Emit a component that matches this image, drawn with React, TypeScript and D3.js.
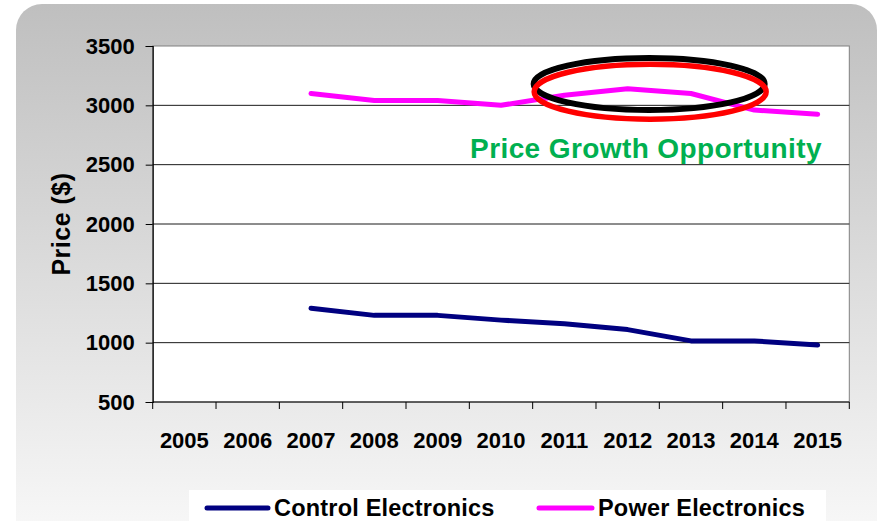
import React, { useEffect, useRef } from 'react';
import * as d3 from 'd3';

// Chart data
const years = ['2005', '2006', '2007', '2008', '2009', '2010', '2011', '2012', '2013', '2014', '2015'];
const controlElectronics = [null, null, 1290, 1230, 1230, 1190, 1160, 1110, 1015, 1015, 980];
const powerElectronics = [null, null, 3100, 3040, 3040, 3000, 3085, 3140, 3100, 2960, 2925];
const yTicks = [500, 1000, 1500, 2000, 2500, 3000, 3500];
const seriesNames = ['Control Electronics', 'Power Electronics'];

const FONT = '"Liberation Sans", Arial, sans-serif';

const App = () => {
  const svgRef = useRef<SVGSVGElement | null>(null);

  useEffect(() => {
    const svg = d3.select(svgRef.current);
    svg.selectAll('*').remove();

    const width = 880;
    const height = 521;
    const plot = { left: 152.7, right: 849.3, top: 46, bottom: 402 };

    // Background panel with vertical gray gradient
    const defs = svg.append('defs');
    const grad = defs.append('linearGradient')
      .attr('id', 'panelGrad')
      .attr('x1', 0).attr('y1', 0).attr('x2', 0).attr('y2', 1);
    grad.append('stop').attr('offset', '0%').attr('stop-color', '#bfbfbf');
    grad.append('stop').attr('offset', '100%').attr('stop-color', '#fbfbfb');

    svg.append('rect')
      .attr('width', width).attr('height', height)
      .attr('fill', '#ffffff');
    svg.append('rect')
      .attr('x', 16).attr('y', 4)
      .attr('width', 861).attr('height', 560)
      .attr('rx', 26).attr('ry', 26)
      .attr('fill', 'url(#panelGrad)');

    // Scales
    const x = d3.scaleBand<string>()
      .domain(years)
      .range([plot.left, plot.right])
      .padding(0);

    const y = d3.scaleLinear()
      .domain([500, 3500])
      .range([plot.bottom, plot.top]);

    // Plot area
    svg.append('rect')
      .attr('x', plot.left).attr('y', plot.top)
      .attr('width', plot.right - plot.left)
      .attr('height', plot.bottom - plot.top)
      .attr('fill', '#ffffff')
      .attr('stroke', '#808080')
      .attr('stroke-width', 1);

    // Gridlines
    svg.append('g')
      .selectAll('line')
      .data(yTicks.filter(t => t > 500 && t < 3500))
      .enter()
      .append('line')
      .attr('x1', plot.left).attr('x2', plot.right)
      .attr('y1', d => y(d)).attr('y2', d => y(d))
      .attr('stroke', '#1a1a1a')
      .attr('stroke-width', 1);

    // Y axis
    const yAxis = svg.append('g')
      .attr('transform', `translate(${plot.left},0)`)
      .call(d3.axisLeft(y).tickValues(yTicks).tickSize(7).tickPadding(11).tickFormat(d3.format('d')));
    yAxis.select('.domain').attr('stroke', '#000').attr('stroke-width', 1.2);
    yAxis.selectAll('.tick line').attr('stroke', '#000');
    yAxis.selectAll('text')
      .attr('font-family', FONT)
      .attr('font-weight', 'bold')
      .attr('font-size', 22)
      .attr('fill', '#000');

    // X axis: ticks on band edges, labels at band centres
    const xAxis = svg.append('g').attr('transform', `translate(0,${plot.bottom})`);
    xAxis.append('line')
      .attr('x1', plot.left).attr('x2', plot.right)
      .attr('stroke', '#000').attr('stroke-width', 1.2);
    const edges = years.map(yr => x(yr) as number).concat([plot.right]);
    xAxis.selectAll('line.tick')
      .data(edges)
      .enter()
      .append('line')
      .attr('class', 'tick')
      .attr('x1', d => d).attr('x2', d => d)
      .attr('y1', 0).attr('y2', 7)
      .attr('stroke', '#000');
    xAxis.selectAll('text')
      .data(years)
      .enter()
      .append('text')
      .attr('x', d => (x(d) as number) + x.bandwidth() / 2)
      .attr('y', 46)
      .attr('text-anchor', 'middle')
      .attr('font-family', FONT)
      .attr('font-weight', 'bold')
      .attr('font-size', 22)
      .attr('fill', '#000')
      .text(d => d);

    // Y axis title
    svg.append('text')
      .attr('transform', `translate(70,224) rotate(-90)`)
      .attr('text-anchor', 'middle')
      .attr('font-family', FONT)
      .attr('font-weight', 'bold')
      .attr('font-size', 25)
      .attr('letter-spacing', 0.5)
      .attr('fill', '#000')
      .text('Price ($)');

    // Series lines
    const series = [
      { name: seriesNames[0], values: controlElectronics, color: '#000080' },
      { name: seriesNames[1], values: powerElectronics, color: '#ff00ff' },
    ];

    const line = d3.line<number | null>()
      .defined(d => d !== null)
      .x((_, i) => (x(years[i]) as number) + x.bandwidth() / 2)
      .y(d => y(d as number));

    series.forEach(s => {
      svg.append('path')
        .datum(s.values)
        .attr('fill', 'none')
        .attr('stroke', s.color)
        .attr('stroke-width', 5)
        .attr('stroke-linejoin', 'round')
        .attr('stroke-linecap', 'round')
        .attr('d', line);
    });

    // Annotation ellipses around the 2012 peak
    const cx = (x('2012') as number) + x.bandwidth() / 2 + 21.5;
    svg.append('ellipse')
      .attr('cx', cx).attr('cy', y(3180))
      .attr('rx', 115.5).attr('ry', 26)
      .attr('fill', 'none')
      .attr('stroke', '#000')
      .attr('stroke-width', 6);
    svg.append('ellipse')
      .attr('cx', cx + 1).attr('cy', y(3115))
      .attr('rx', 116).attr('ry', 27.5)
      .attr('fill', 'none')
      .attr('stroke', '#ff0000')
      .attr('stroke-width', 5.5);

    svg.append('text')
      .attr('x', 646).attr('y', 158)
      .attr('text-anchor', 'middle')
      .attr('font-family', FONT)
      .attr('font-weight', 'bold')
      .attr('font-size', 28)
      .attr('letter-spacing', 0.4)
      .attr('fill', '#00b050')
      .text('Price Growth Opportunity');

    // Legend
    svg.append('rect')
      .attr('x', 189).attr('y', 490)
      .attr('width', 637).attr('height', 40)
      .attr('fill', '#ffffff');

    const legendX = [207, 539];
    const legendLen = [61, 53];
    series.forEach((s, i) => {
      svg.append('line')
        .attr('x1', legendX[i]).attr('x2', legendX[i] + legendLen[i])
        .attr('y1', 508).attr('y2', 508)
        .attr('stroke', s.color)
        .attr('stroke-width', 5)
        .attr('stroke-linecap', 'round');
      svg.append('text')
        .attr('x', legendX[i] + legendLen[i] + 6).attr('y', 516)
        .attr('font-family', FONT)
        .attr('font-weight', 'bold')
        .attr('font-size', 23.5)
        .attr('letter-spacing', 0.2)
        .attr('fill', '#000')
        .text(s.name);
    });
  }, []);

  return (
    <svg
      ref={svgRef}
      width={880}
      height={521}
      style={{ position: 'absolute', left: 0, top: 0, display: 'block' }}
    />
  );
};

export default App;
